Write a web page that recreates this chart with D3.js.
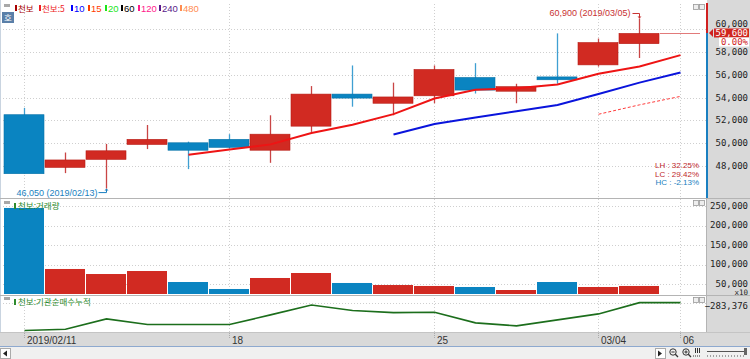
<!DOCTYPE html>
<html><head><meta charset="utf-8">
<script src="https://cdn.jsdelivr.net/npm/d3@7/dist/d3.min.js"></script>
<style>body{margin:0;background:#fff}svg{display:block}</style>
</head><body><svg id="c" width="750" height="359"></svg>
<script>
// ---------- data ----------
const dates=["2019/02/11","2019/02/12","2019/02/13","2019/02/14","2019/02/15","2019/02/18","2019/02/19","2019/02/20","2019/02/21","2019/02/22","2019/02/25","2019/02/26","2019/02/27","2019/02/28","2019/03/04","2019/03/05","2019/03/06"];
const openV =[52500,47900,48600,49900,50050,50350,49400,51500,54300,53500,54150,55750,54550,55800,56850,58700,59600];
const highV =[53100,49200,49950,51600,50150,50800,52450,55000,56800,55300,56800,57000,55200,59600,59150,60900,59600];
const lowV  =[47350,47400,46050,49500,47750,49550,48300,51000,53200,52450,53500,54350,53500,55200,56700,57450,59600];
const closeV=[47350,48550,49350,50350,49400,49650,50800,54300,53950,54050,56450,54650,54950,55550,58800,59600,59600];
const volume=[245000,88500,75600,83300,55100,37200,65400,78200,52600,47400,44900,42300,34600,55100,42300,44900,0];
const ma5Dates=dates.slice(4);
const ma5 =[49000,49460,49910,50900,51620,52550,53910,54680,54810,55130,56080,56710,57700];
const ma10Dates=dates.slice(9);
const ma10=[50780,51690,52250,52800,53350,54300,55300,56190];
const ma15Dates=dates.slice(14);
const ma15=[52540,53360,54100];
const instCum=[-367400,-363800,-332300,-349400,-349400,-349400,-320300,-290300,-306800,-313400,-312200,-344300,-353300,-335300,-317300,-283376,-283376];
const priceTicks=[60000,58000,56000,54000,52000,50000,48000];
const volTicks=[250000,200000,150000,100000,50000];
const dateTicks=["2019/02/11","2019/02/18","2019/02/25","2019/03/04","2019/03/06"];
const dateTickLabels=["2019/02/11","18","25","03/04","06"];
const legendLabels=["천보","천보:5","10","15","20","60","120","240","480"];
const legendColors=["#a80000","#ee1c24","#0000ff","#ff3c00","#19e619","#000000","#ff1a8c","#5a1a8c","#ff8c50"];
const lastPrice=59600, lastChange="0.00%";
const statLabels=["LH : 32.25%","LC : 29.42%","HC : -2.13%"];
const hiNote="60,900 (2019/03/05)", loNote="46,050 (2019/02/13)";
const hiIdx=15, loIdx=2;

// ---------- setup ----------
const svg=d3.select("#c");
const monoF="'DejaVu Sans Mono','Liberation Mono',monospace";
const narrowF="'Liberation Sans Narrow','Liberation Sans',Arial,sans-serif";
const krF="'Noto Sans CJK KR','Noto Sans',sans-serif";
const RED="#d12a22", BLUE="#0a84c1";
const fmt=d3.format(",");
const AXF=9;

const x=d3.scaleBand().domain(dates).range([3.5,700.5]).padding(0);
const cx=d=>Math.round(x(d)+20.5);
const y=d3.scaleLinear().domain([45316,62165]).range([197,4]);
const yv=d3.scaleLinear().domain([24359,265385]).range([294,200]);
const yc=d3.scaleLinear().domain([-371876,-263276]).range([332,296]);

// backgrounds
svg.append("rect").attr("x",0).attr("y",0).attr("width",750).attr("height",359).attr("fill","#fff");
svg.append("rect").attr("x",707).attr("y",0).attr("width",43).attr("height",332).attr("fill","#d9d9d9");
svg.append("line").attr("x1",0.5).attr("x2",0.5).attr("y1",0).attr("y2",332).attr("stroke","#c9d4e0");

// grid: horizontal
const gridC="#cfcfcf";
svg.append("g").selectAll("line").data(priceTicks).join("line")
  .attr("x1",3).attr("x2",706).attr("y1",d=>Math.round(y(d))+0.5).attr("y2",d=>Math.round(y(d))+0.5)
  .attr("stroke",gridC).attr("stroke-dasharray","1,2");
svg.append("g").selectAll("line").data(volTicks).join("line")
  .attr("x1",3).attr("x2",706).attr("y1",d=>Math.round(yv(d))+0.5).attr("y2",d=>Math.round(yv(d))+0.5)
  .attr("stroke",gridC).attr("stroke-dasharray","1,2");
svg.append("line").attr("x1",3).attr("x2",706)
  .attr("y1",Math.round(yc(instCum[instCum.length-1]))+0.5).attr("y2",Math.round(yc(instCum[instCum.length-1]))+0.5)
  .attr("stroke",gridC).attr("stroke-dasharray","1,2");
// grid: vertical
svg.append("g").selectAll("line").data(dateTicks).join("line")
  .attr("x1",d=>cx(d)+0.5).attr("x2",d=>cx(d)+0.5).attr("y1",4).attr("y2",332)
  .attr("stroke",gridC).attr("stroke-dasharray","1,2");

// panel separators
[198.5,295.5].forEach(v=>svg.append("line").attr("x1",0).attr("x2",750).attr("y1",v).attr("y2",v).attr("stroke","#b4b4b4"));

// ---------- candles ----------
const cg=svg.append("g");
dates.forEach((d,i)=>{
  const o=openV[i],c=closeV[i],h=highV[i],l=lowV[i];
  const bx=Math.round(x(d)+0.5), mid=cx(d)+0.5;
  if(o===c && h===l){
    cg.append("line").attr("x1",bx).attr("x2",bx+40).attr("y1",Math.round(y(c))+0.5).attr("y2",Math.round(y(c))+0.5)
      .attr("stroke","#e27a7a").attr("stroke-width",1);
    return;
  }
  const up=c>=o, col=up?RED:BLUE, wcol=up?"#c94545":"#3f9fd2";
  cg.append("line").attr("x1",mid).attr("x2",mid).attr("y1",y(h)).attr("y2",y(l)).attr("stroke",wcol).attr("stroke-width",1.3);
  const t=y(Math.max(o,c)), b=y(Math.min(o,c));
  cg.append("rect").attr("x",bx).attr("y",t).attr("width",40).attr("height",Math.max(1.5,b-t))
    .attr("fill",col).attr("stroke",up?"#b81d16":"#0873a8").attr("stroke-width",0.6);
});

// moving averages
const line=(ys)=>d3.line().x(d=>cx(d[0])+0.5).y(d=>ys(d[1]));
svg.append("path").datum(ma15Dates.map((d,i)=>[d,ma15[i]])).attr("d",line(y)).attr("fill","none")
  .attr("stroke","#ff3b3b").attr("stroke-width",1).attr("stroke-dasharray","3,2");
svg.append("path").datum(ma10Dates.map((d,i)=>[d,ma10[i]])).attr("d",line(y)).attr("fill","none")
  .attr("stroke","#0a14dc").attr("stroke-width",2);
svg.append("path").datum(ma5Dates.map((d,i)=>[d,ma5[i]])).attr("d",line(y)).attr("fill","none")
  .attr("stroke","#ee1414").attr("stroke-width",2);

// hi/lo annotations
{
  const hx=cx(dates[hiIdx])+0.5, hy=y(highV[hiIdx]);
  const ty=hy-5;
  svg.append("text").attr("x",hx-9).attr("y",ty+3).attr("text-anchor","end").attr("font-family",narrowF)
    .attr("font-size",9).attr("fill","#c83232").text(hiNote);
  svg.append("path").attr("d",`M${hx-7},${ty}H${hx}V${hy-1}`).attr("fill","none").attr("stroke","#c83232");
  svg.append("path").attr("d",`M${hx-2},${hy-2}L${hx+2},${hy-2}L${hx},${hy}Z`).attr("fill","#c83232");
  const lx=cx(dates[loIdx])+0.5, ly=y(lowV[loIdx]);
  const by=ly+4;
  svg.append("text").attr("x",lx-9).attr("y",by+3).attr("text-anchor","end").attr("font-family",narrowF)
    .attr("font-size",9).attr("fill","#1a7fc0").text(loNote);
  svg.append("path").attr("d",`M${lx-8},${by}H${lx}V${ly+1}`).attr("fill","none").attr("stroke","#1a7fc0");
  svg.append("path").attr("d",`M${lx-2},${ly+2}L${lx+2},${ly+2}L${lx},${ly}Z`).attr("fill","#1a7fc0");
}

// stats
svg.append("g").selectAll("text").data(statLabels).join("text")
  .attr("x",699).attr("y",(d,i)=>168+i*8.7).attr("text-anchor","end").attr("font-family",narrowF)
  .attr("font-size",8).attr("fill",(d,i)=>i<2?"#c0282a":"#1a7fc0").text(d=>d);

// ---------- volume ----------
svg.append("g").selectAll("rect").data(dates.filter((d,i)=>volume[i]>0)).join("rect")
  .attr("x",d=>Math.round(x(d)+0.5)).attr("width",40)
  .attr("y",d=>yv(volume[dates.indexOf(d)])).attr("height",d=>294-yv(volume[dates.indexOf(d)]))
  .attr("fill",d=>{const i=dates.indexOf(d);return closeV[i]>=openV[i]?RED:BLUE;});

// ---------- institutional cumulative ----------
svg.append("path").datum(dates.map((d,i)=>[d,instCum[i]])).attr("d",line(yc)).attr("fill","none")
  .attr("stroke","#1c6e1c").attr("stroke-width",1.6);

// ---------- right axis ----------
const py=Math.round(y(lastPrice));
svg.append("line").attr("x1",707).attr("x2",707).attr("y1",3).attr("y2",py).attr("stroke","#d02020").attr("stroke-width",2);
svg.append("line").attr("x1",707).attr("x2",707).attr("y1",py).attr("y2",198).attr("stroke","#1a7fc0").attr("stroke-width",2);
svg.append("line").attr("x1",706.5).attr("x2",706.5).attr("y1",199).attr("y2",332).attr("stroke","#b4b4b4");
svg.append("g").selectAll("text").data(priceTicks).join("text")
  .attr("x",748).attr("y",d=>y(d)+(d===60000?-2:3)).attr("text-anchor","end").attr("font-family",monoF).attr("font-size",AXF)
  .attr("fill","#222").text(d=>fmt(d));
svg.append("rect").attr("x",714).attr("y",py-4.5).attr("width",35).attr("height",9).attr("fill","#d0261f");
svg.append("text").attr("x",748).attr("y",py+3.2).attr("text-anchor","end").attr("font-family",monoF).attr("font-size",AXF)
  .attr("fill","#fff").text(fmt(lastPrice));
svg.append("path").attr("d",`M709,${py}L713,${py-4}L713,${py+4}Z`).attr("fill","#d02020");
svg.append("rect").attr("x",719).attr("y",py+4.5).attr("width",30).attr("height",9).attr("fill","#fff");
svg.append("text").attr("x",748).attr("y",py+12.2).attr("text-anchor","end").attr("font-family",monoF).attr("font-size",AXF)
  .attr("fill","#d0261f").text(lastChange);
svg.append("g").selectAll("text").data(volTicks).join("text")
  .attr("x",748).attr("y",d=>yv(d)+2.5).attr("text-anchor","end").attr("font-family",monoF).attr("font-size",AXF)
  .attr("fill","#222").text(d=>fmt(d));
svg.append("text").attr("x",748).attr("y",294.5).attr("text-anchor","end").attr("font-family",monoF).attr("font-size",7.5)
  .attr("fill","#222").text("x10");
svg.append("text").attr("x",748).attr("y",yc(instCum[instCum.length-1])+6).attr("text-anchor","end").attr("font-family",monoF)
  .attr("font-size",AXF).attr("fill","#222").text(fmt(instCum[instCum.length-1]));

// ---------- legend & panel titles ----------
{
  const legendX=[15,39,71,88,105,121,138,159,180];
  legendLabels.forEach((t,i)=>{
    const lx=legendX[i];
    svg.append("rect").attr("x",lx).attr("y",5).attr("width",2).attr("height",6).attr("fill",legendColors[i]);
    const isKr=/[가-힣]/.test(t);
    svg.append("text").attr("x",lx+3).attr("y",11.5).attr("font-family",isKr?krF:narrowF)
      .attr("font-size",isKr?8.5:9.5).attr("fill",legendColors[i]).text(t);
  });
}
function panelTitle(ty,txt){
  svg.append("rect").attr("x",4).attr("y",ty-8).attr("width",6).attr("height",3).attr("fill","#a8a8a8");
  svg.append("rect").attr("x",14).attr("y",ty-6).attr("width",2).attr("height",6).attr("fill","#2e8b2e");
  svg.append("text").attr("x",18).attr("y",ty).attr("font-family",krF).attr("font-size",8.5).attr("fill","#2e8b2e").text(txt);
}
svg.append("rect").attr("x",4).attr("y",4).attr("width",6).attr("height",3).attr("fill","#a8a8a8");
svg.append("rect").attr("x",2).attr("y",12).attr("width",12).attr("height",11).attr("fill","#5a7fa8");
svg.append("text").attr("x",8).attr("y",21).attr("text-anchor","middle").attr("font-family",krF).attr("font-size",8.5)
  .attr("fill","#fff").text("호");
panelTitle(209,"천보:거래량");
panelTitle(305,"천보:기관순매수누적");
// panel window buttons
[4,200,297].forEach(ty=>{
  [693,699].forEach(bx=>svg.append("rect").attr("x",bx+0.5).attr("y",ty+0.5).attr("width",5).attr("height",5)
    .attr("fill","#eee").attr("stroke","#9a9a9a").attr("stroke-width",0.8));
});

// ---------- x axis band ----------
svg.append("rect").attr("x",0).attr("y",332).attr("width",750).attr("height",14).attr("fill","#d9d9d9");
svg.append("line").attr("x1",0).attr("x2",750).attr("y1",332.5).attr("y2",332.5).attr("stroke","#c4c4c4");
svg.append("g").selectAll("line").data(dateTicks).join("line")
  .attr("x1",d=>cx(d)+0.5).attr("x2",d=>cx(d)+0.5).attr("y1",333).attr("y2",338).attr("stroke","#aaa").attr("stroke-dasharray","1,1");
svg.append("g").selectAll("text").data(dateTicks).join("text")
  .attr("x",d=>cx(d)+3).attr("y",344).attr("font-family",narrowF).attr("font-size",10).attr("fill","#333")
  .text((d,i)=>dateTickLabels[i]);

// ---------- scrollbar ----------
svg.append("rect").attr("x",0).attr("y",346).attr("width",750).attr("height",13).attr("fill","#f0f0f0");
svg.append("line").attr("x1",0).attr("x2",750).attr("y1",346.5).attr("y2",346.5).attr("stroke","#8ea9cf");
svg.append("rect").attr("x",0.5).attr("y",348.5).attr("width",10).attr("height",10).attr("fill","#fff").attr("stroke","#aaa");
svg.append("path").attr("d","M3,353.5L7,350.5L7,356.5Z").attr("fill","#222");
svg.append("rect").attr("x",655.5).attr("y",348.5).attr("width",10).attr("height",10).attr("fill","#fff").attr("stroke","#aaa");
svg.append("path").attr("d","M662,353.5L658,350.5L658,356.5Z").attr("fill","#222");
[673,686].forEach((mx,k)=>{
  svg.append("circle").attr("cx",mx).attr("cy",352).attr("r",3.2).attr("fill","none").attr("stroke","#333");
  svg.append("line").attr("x1",mx+2.3).attr("y1",354.3).attr("x2",mx+5).attr("y2",357).attr("stroke","#333").attr("stroke-width",1.3);
  svg.append("line").attr("x1",mx-1.6).attr("x2",mx+1.6).attr("y1",352).attr("y2",352).attr("stroke","#333");
  if(k===1) svg.append("line").attr("x1",mx).attr("x2",mx).attr("y1",350.4).attr("y2",353.6).attr("stroke","#333");
});
[695,697,699].forEach(bx=>svg.append("line").attr("x1",bx+0.5).attr("x2",bx+0.5).attr("y1",348).attr("y2",353).attr("stroke","#333"));
svg.append("path").attr("d","M693,356H701").attr("stroke","#333").attr("stroke-dasharray","1,1");
svg.append("line").attr("x1",707).attr("x2",744).attr("y1",351.5).attr("y2",351.5).attr("stroke","#555");
svg.append("rect").attr("x",744).attr("y",348).attr("width",3).attr("height",7).attr("fill","#666");
svg.append("path").attr("d","M707,356H746").attr("stroke","#555").attr("stroke-dasharray","1,2");
</script></body></html>
